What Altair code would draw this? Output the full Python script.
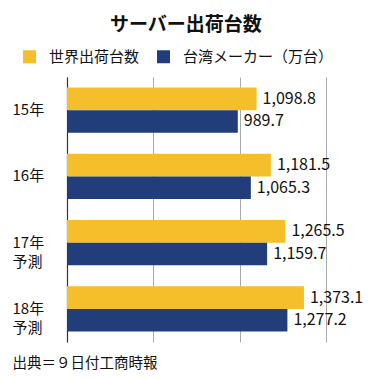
import altair as alt
import pandas as pd

years = ["15年", "16年", "17年\n予測", "18年\n予測"]
series = ["世界出荷台数", "台湾メーカー（万台）"]
world = [1098.8, 1181.5, 1265.5, 1373.1]
taiwan = [989.7, 1065.3, 1159.7, 1277.2]
colors = ["#F5BF2B", "#213E7A"]
grid_vals = [0, 500, 1000, 1500]

rows = []
for i, y in enumerate(years):
    rows.append({"year": y, "series": series[0], "value": world[i], "order": 0})
    rows.append({"year": y, "series": series[1], "value": taiwan[i], "order": 1})
df = pd.DataFrame(rows)

FONT = "Noto Sans CJK JP"

base = alt.Chart(df).encode(
    y=alt.Y("year:N", sort=years,
            scale=alt.Scale(paddingInner=0.32, paddingOuter=0.16),
            axis=alt.Axis(title=None, ticks=False, labelPadding=55, labelAlign="left",
                          labelBaseline="top", labelOffset=-7, labelFontSize=15,
                          labelLineHeight=19, labelColor="#111", labelFont=FONT,
                          labelExpr="split(datum.label, '\\n')",
                          domainColor="#333", domainWidth=1.2, grid=False)),
    yOffset=alt.YOffset("series:N", sort=series, scale=alt.Scale(paddingInner=0, paddingOuter=0)),
)

bars = base.mark_bar().encode(
    x=alt.X("value:Q", scale=alt.Scale(domain=[0, 1750], nice=False, zero=True),
            axis=alt.Axis(values=grid_vals, labels=False, ticks=False, domain=False,
                          grid=True, gridColor="#AAAAAA", gridWidth=1,
                          title="出典＝９日付工商時報", titleAnchor="start", titleAlign="left",
                          titleX=-55, titleY=21, titleBaseline="middle",
                          titleFontSize=14.5, titleFontWeight="normal", titleFont=FONT,
                          titleColor="#111")),
    color=alt.Color("series:N", sort=series,
                    scale=alt.Scale(domain=series, range=colors),
                    legend=alt.Legend(title=None, orient="none", legendX=-45, legendY=-28,
                                      direction="horizontal", symbolType="square",
                                      symbolSize=169, symbolStrokeWidth=0,
                                      labelFontSize=15, labelFont=FONT, labelColor="#111",
                                      labelOffset=12, columnPadding=16)),
)

labels = base.mark_text(align="left", baseline="middle", dx=6, fontSize=16,
                        font=FONT, color="#111").encode(
    x=alt.X("value:Q"),
    text=alt.Text("value:Q", format=",.1f"),
)

chart = alt.layer(bars, labels).properties(
    width=302, height=265,
    padding={"left": 59, "top": 69, "right": 5, "bottom": 30},
    autosize=alt.AutoSizeParams(type="none"),
    title=alt.TitleParams("サーバー出荷台数", anchor="start", dx=98, fontSize=19,
                          fontWeight="bold", font=FONT, color="#111", offset=14),
).configure_view(stroke=None)

chart.save("out.html", embed_options={"renderer": "svg", "actions": False})
